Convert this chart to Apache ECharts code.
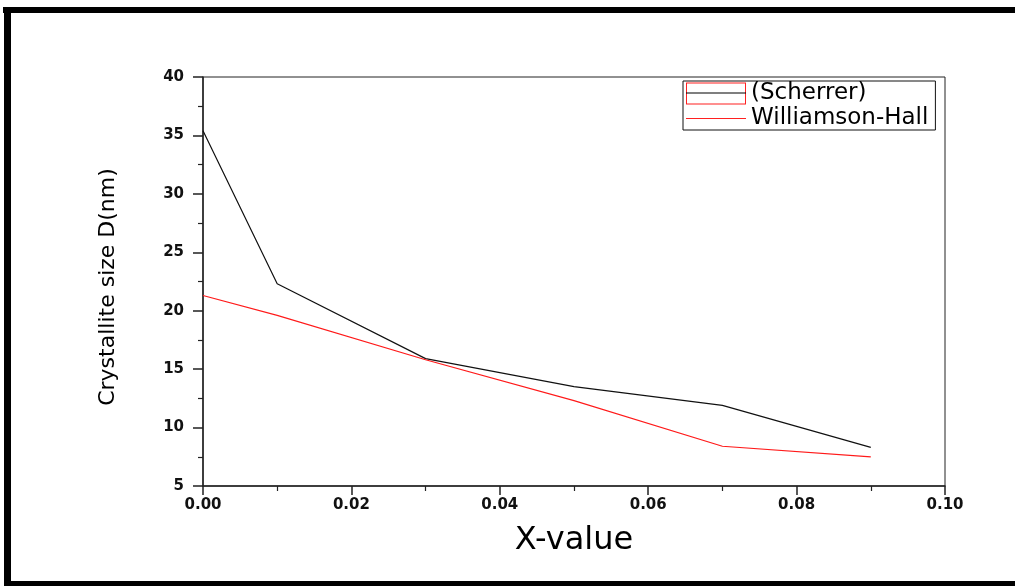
<!DOCTYPE html>
<html>
<head>
<meta charset="utf-8">
<script src="https://cdn.jsdelivr.net/npm/echarts@6/dist/echarts.min.js"></script>
<style>
html,body{margin:0;padding:0;background:#fff;}
#chart{width:1015px;height:586px;}
</style>
</head>
<body>
<div id="chart"></div>
<script>
// ---- data ----
const xValues = [0, 0.01, 0.03, 0.05, 0.07, 0.09];
const scherrer = [35.4, 22.3, 15.9, 13.5, 11.9, 8.3];
const williamsonHall = [21.3, 19.6, 15.8, 12.3, 8.4, 7.5];
const seriesNames = ['(Scherrer)', 'Williamson-Hall'];
const xTitle = 'X-value';
const yTitle = 'Crystallite size D(nm)';

const pairs = (ys) => xValues.map((x, i) => [x, ys[i]]);

const framePath = 'path://M0,0H60V22H0Z M1,1V21H59V1Z';
const barPath = 'path://M0,0h0.01v0.01h-0.01Z M0,10.4H60V11.6H0Z M59.99,21.99h0.01v0.01h-0.01Z';

const chart = echarts.init(document.getElementById('chart'));
const tickFont = {fontFamily: 'DejaVu Sans', fontWeight: 'bold', fontSize: 15, color: '#111'};

chart.setOption({
  backgroundColor: '#fff',
  animation: false,
  grid: {left: 203, right: 70, top: 77, bottom: 100, show: true, borderColor: '#222', borderWidth: 1},
  legend: [{
    orient: 'vertical', left: 683, top: 81,
    itemWidth: 60, itemHeight: 22, itemGap: 2,
    padding: [1, 7, 0, 3],
    borderColor: '#111', borderWidth: 1, borderRadius: 0,
    selectedMode: false,
    textStyle: {fontFamily: 'DejaVu Sans', fontSize: 23, color: '#000'},
    data: [
      {name: seriesNames[0], icon: framePath, itemStyle: {color: '#ff2020', borderWidth: 0}},
      {name: seriesNames[1], icon: barPath, itemStyle: {color: '#ff2020', borderWidth: 0}}
    ]
  }, {
    orient: 'vertical', left: 683, top: 81,
    itemWidth: 60, itemHeight: 22, itemGap: 2,
    padding: [1, 0, 0, 3],
    borderWidth: 0,
    selectedMode: false,
    z: 10,
    formatter: () => '',
    textStyle: {fontSize: 23},
    data: [
      {name: seriesNames[0], icon: barPath, itemStyle: {color: '#000', borderWidth: 0}}
    ]
  }],
  xAxis: {
    type: 'value', min: 0, max: 0.1, interval: 0.02,
    name: xTitle, nameLocation: 'middle', nameGap: 39,
    nameTextStyle: {fontFamily: 'DejaVu Sans', fontSize: 32, color: '#000'},
    axisLine: {lineStyle: {color: '#222', width: 1.5}},
    axisTick: {show: true, inside: false, length: 9, lineStyle: {color: '#222', width: 1.5}},
    minorTick: {show: true, splitNumber: 2, length: 5, lineStyle: {color: '#222', width: 1.2}},
    splitLine: {show: false},
    axisLabel: Object.assign({margin: 12, formatter: v => v.toFixed(2)}, tickFont)
  },
  yAxis: {
    type: 'value', min: 5, max: 40, interval: 5,
    name: yTitle, nameLocation: 'middle', nameGap: 84, nameRotate: 90,
    nameTextStyle: {fontFamily: 'DejaVu Sans', fontSize: 22, color: '#000', padding: [0, 11, 0, 0]},
    axisLine: {lineStyle: {color: '#222', width: 1.5}},
    axisTick: {show: true, inside: false, length: 10, lineStyle: {color: '#222', width: 1.5}},
    minorTick: {show: true, splitNumber: 2, length: 5, lineStyle: {color: '#222', width: 1.2}},
    splitLine: {show: false},
    axisLabel: Object.assign({margin: 19}, tickFont)
  },
  series: [
    {name: seriesNames[0], type: 'line', data: pairs(scherrer), symbol: 'none',
     lineStyle: {color: '#111', width: 1.2}, itemStyle: {color: '#111'}},
    {name: seriesNames[1], type: 'line', data: pairs(williamsonHall), symbol: 'none',
     lineStyle: {color: '#ff1a1a', width: 1.2}, itemStyle: {color: '#ff1a1a'}}
  ],
  graphic: [
    {type: 'rect', shape: {x: 3, y: 7, width: 1012, height: 6}, style: {fill: '#000'}, silent: true},
    {type: 'rect', shape: {x: 4, y: 7, width: 7, height: 579}, style: {fill: '#000'}, silent: true},
    {type: 'rect', shape: {x: 4, y: 581, width: 1011, height: 5}, style: {fill: '#000'}, silent: true}
  ]
});
</script>
</body>
</html>
